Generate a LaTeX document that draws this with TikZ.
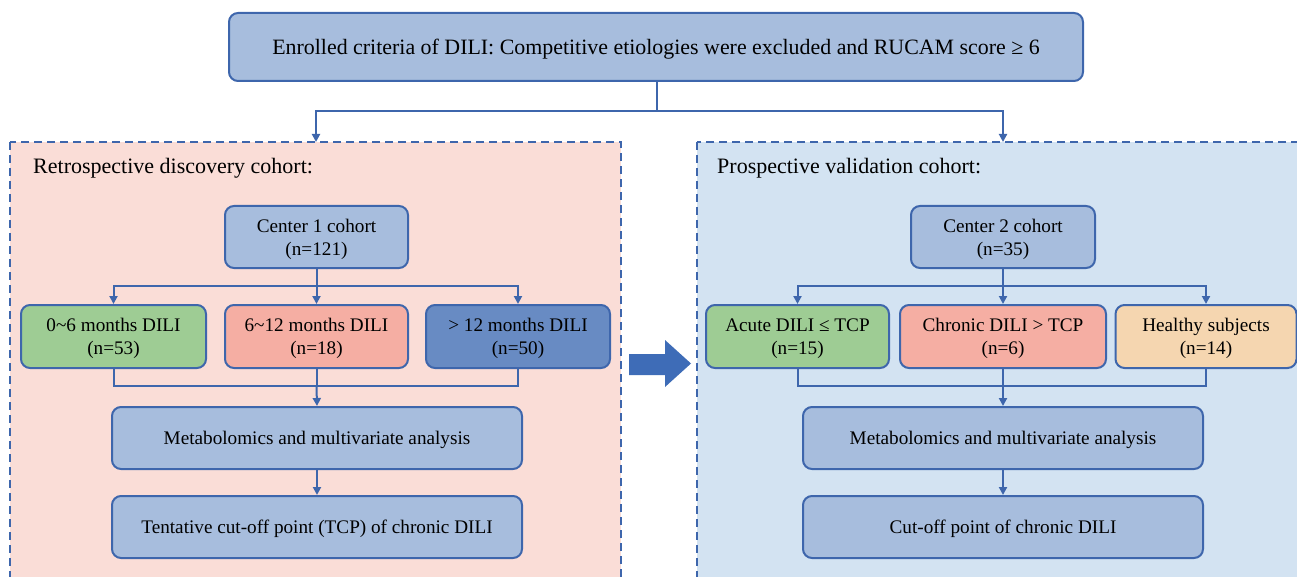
\documentclass[tikz,border=0pt]{standalone}
\usepackage{fontspec}
\setmainfont{Liberation Serif}
\usetikzlibrary{arrows.meta}
\definecolor{bluefill}{RGB}{167,189,221}
\definecolor{blueline}{RGB}{62,102,172}
\definecolor{greenfill}{RGB}{158,204,148}
\definecolor{salmonfill}{RGB}{245,174,163}
\definecolor{darkbluefill}{RGB}{104,139,195}
\definecolor{tanfill}{RGB}{245,214,176}
\definecolor{pinkbg}{RGB}{250,221,215}
\definecolor{lightbluebg}{RGB}{211,227,242}
\definecolor{bigarrow}{RGB}{62,108,183}
\tikzset{
  box/.style={draw=blueline, line width=2pt, rounded corners=9pt, fill=bluefill,
    align=center, inner sep=0pt, text depth=0pt, font=\fontsize{19.2}{23}\selectfont},
  conn/.style={draw=blueline, line width=2pt},
  arr/.style={conn, -{Triangle[length=8pt,width=8pt]}},
  cohort/.style={draw=blueline, line width=2pt, dash pattern=on 8pt off 5pt},
  lab/.style={anchor=west, inner sep=0pt, font=\fontsize{22}{26}\selectfont}
}
\begin{document}
\begin{tikzpicture}[x=1pt,y=-1pt]
\useasboundingbox (0,0) rectangle (1297,577);
\clip (0,0) rectangle (1297,577);
% cohort panels
\path[cohort, fill=pinkbg] (10,142) rectangle (621,600);
\path[cohort, fill=lightbluebg] (697,142) rectangle (1320,600);
\node[lab] (retro) at (33,168) {Retrospective discovery cohort:};
\node[lab] (prosp) at (717,168) {Prospective validation cohort:};
% top
\node[box, minimum width=854pt, minimum height=68pt, font=\fontsize{21.9}{26}\selectfont] (top) at (656,47)
  {Enrolled criteria of DILI: Competitive etiologies were excluded and RUCAM score ≥ 6};
\coordinate (split) at (657,111);
\coordinate (inL) at (316,142);
\coordinate (inR) at (1003,142);
\draw[conn] (top.south -| split) -- (split);
\draw[arr] (split) -| (inL);
\draw[arr] (split) -| (inR);
% left side
\node[box, minimum width=183pt, minimum height=62pt] (c1) at (316.5,237) {Center 1 cohort\\(n=121)};
\node[box, fill=greenfill, minimum width=185pt, minimum height=63pt] (l1) at (113.5,336.5) {0\textasciitilde6 months DILI\\(n=53)};
\node[box, fill=salmonfill, minimum width=183pt, minimum height=63pt] (l2) at (316.5,336.5) {6\textasciitilde12 months DILI\\(n=18)};
\node[box, fill=darkbluefill, minimum width=184pt, minimum height=63pt] (l3) at (518,336.5) {> 12 months DILI\\(n=50)};
\node[box, minimum width=410pt, minimum height=62pt] (ml) at (317,438) {Metabolomics and multivariate analysis};
\node[box, minimum width=410pt, minimum height=62pt] (tl) at (317,527) {Tentative cut-off point (TCP) of chronic DILI};
\coordinate (bl) at (316.5,286);
\coordinate (jl) at (316.5,386);
\draw[conn] (c1.south) -- (bl);
\draw[arr] (bl) -| (l1.north);
\draw[arr] (bl) -| (l3.north);
\draw[arr] (bl) -- (l2.north);
\draw[conn] (l1.south) |- (jl);
\draw[conn] (l3.south) |- (jl);
\draw[conn] (l2.south) -- (jl);
\draw[arr] (jl) -- (ml.north);
\draw[arr] (ml.south) -- (tl.north);
% big arrow
\fill[bigarrow] (629,354) -- (665,354) -- (665,340) -- (691,363.5) -- (665,387) -- (665,375) -- (629,375) -- cycle;
% right side
\node[box, minimum width=184pt, minimum height=62pt] (c2) at (1003,237) {Center 2 cohort\\(n=35)};
\node[box, fill=greenfill, minimum width=183pt, minimum height=63pt] (r1) at (797.5,336.5) {Acute DILI ≤ TCP\\(n=15)};
\node[box, fill=salmonfill, minimum width=206pt, minimum height=63pt] (r2) at (1003,336.5) {Chronic DILI > TCP\\(n=6)};
\node[box, fill=tanfill, minimum width=181pt, minimum height=63pt] (r3) at (1206,336.5) {Healthy subjects\\(n=14)};
\node[box, minimum width=400pt, minimum height=62pt] (mr) at (1003,438) {Metabolomics and multivariate analysis};
\node[box, minimum width=400pt, minimum height=62pt] (tr) at (1003,527) {Cut-off point of chronic DILI};
\coordinate (br) at (1003,286);
\coordinate (jr) at (1003,386);
\draw[conn] (c2.south) -- (br);
\draw[arr] (br) -| (r1.north);
\draw[arr] (br) -| (r3.north);
\draw[arr] (br) -- (r2.north);
\draw[conn] (r1.south) |- (jr);
\draw[conn] (r3.south) |- (jr);
\draw[conn] (r2.south) -- (jr);
\draw[arr] (jr) -- (mr.north);
\draw[arr] (mr.south) -- (tr.north);
\end{tikzpicture}
\end{document}
